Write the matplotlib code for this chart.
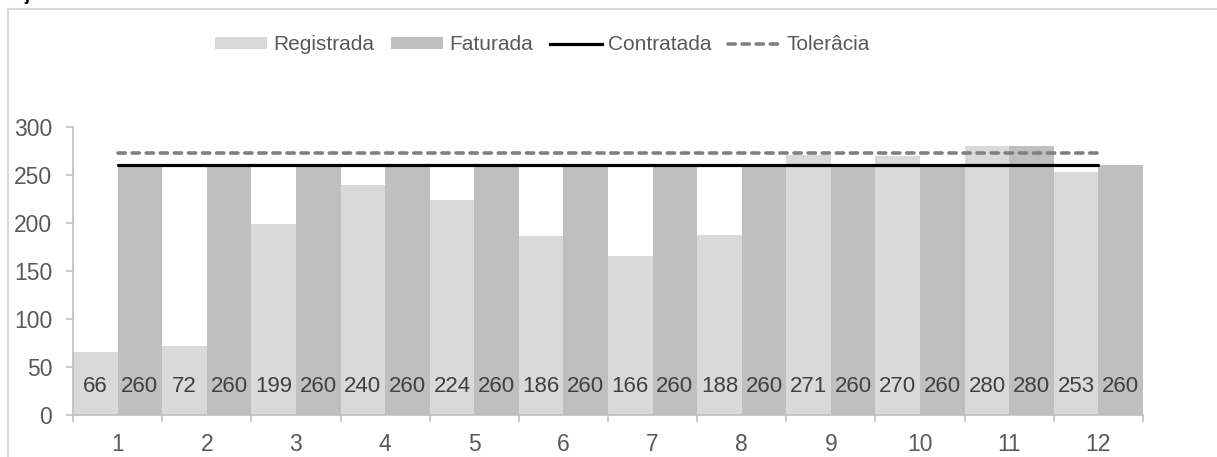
import matplotlib
matplotlib.use("Agg")
import matplotlib.pyplot as plt
from matplotlib.patches import Rectangle, Patch
from matplotlib.lines import Line2D
import numpy as np

plt.rcParams['font.family'] = ['Liberation Sans', 'DejaVu Sans']

meses = [1, 2, 3, 4, 5, 6, 7, 8, 9, 10, 11, 12]
registrada = [66, 72, 199, 240, 224, 186, 166, 188, 271, 270, 280, 253]
faturada = [260, 260, 260, 260, 260, 260, 260, 260, 260, 260, 280, 260]
contratada = [260] * 12
tolerancia = [273] * 12
yticks = [0, 50, 100, 150, 200, 250, 300]

W, H = 1217, 457
fig = plt.figure(figsize=(W / 100, H / 100), dpi=100)

# outer frame
fig.patches.append(Rectangle((8 / W, -0.05), 1.2, 1 - 9 / H + 0.05,
                             transform=fig.transFigure, fill=False,
                             edgecolor='#d9d9d9', linewidth=1.5, zorder=0))

# heading, running off the top edge
fig.text(10 / W, 1 + 0.5 / H, "a jan/15 a dez/15.", fontsize=13, fontweight='bold',
         va='baseline', ha='left', color='black')

left, right = 73 / W, 1143 / W
bottom, top = (H - 415) / H, (H - 127) / H
ax = fig.add_axes([left, bottom, right - left, top - bottom])

x = np.array(meses)
bw = 0.5
ax.bar(x - bw / 2, registrada, width=bw, color='#d9d9d9', zorder=2)
ax.bar(x + bw / 2, faturada, width=bw, color='#bfbfbf', zorder=2)
ax.plot(x, contratada, color='black', linewidth=2.3, solid_capstyle='round', zorder=3)
ax.plot(x, tolerancia, color='#808080', linewidth=2.6, dashes=(2.0, 1.9),
        dash_capstyle='round', zorder=3)

for xi, r, f in zip(x, registrada, faturada):
    ax.text(xi - bw / 2, 30, str(r), ha='center', va='center', fontsize=16, color='#404040', zorder=4)
    ax.text(xi + bw / 2, 30, str(f), ha='center', va='center', fontsize=16, color='#404040', zorder=4)

ax.set_xlim(0.5, 12.5)
ax.set_ylim(0, 300)
ax.set_yticks(yticks)
ax.set_xticks(x)
ax.set_xticklabels([str(m) for m in meses])
ax.set_xticks(np.arange(0.5, 13, 1), minor=True)
ax.tick_params(axis='x', which='major', length=0, pad=13, labelsize=16.5, labelcolor='#595959')
ax.tick_params(axis='x', which='minor', length=5, width=1.2, color='#bfbfbf', direction='out')
ax.tick_params(axis='y', length=5, width=1.2, color='#bfbfbf', labelsize=16.5, labelcolor='#595959', pad=10)

for s in ['top', 'right']:
    ax.spines[s].set_visible(False)
for s in ['left', 'bottom']:
    ax.spines[s].set_color('#bfbfbf')
    ax.spines[s].set_linewidth(1.2)
ax.set_facecolor('none')

handles = [Patch(facecolor='#d9d9d9'), Patch(facecolor='#bfbfbf'),
           Line2D([], [], color='black', linewidth=2.3),
           Line2D([], [], color='#808080', linewidth=2.6, dashes=(2.0, 1.9), dash_capstyle='round')]
labels = ['Registrada', 'Faturada', 'Contratada', 'Tolerâcia']
leg = fig.legend(handles, labels, loc='center left', bbox_to_anchor=(215 / W, 1 - 45 / H), ncol=4,
                 frameon=False, fontsize=15, handlelength=2.5, handleheight=0.5,
                 handletextpad=0.3, columnspacing=0.8, borderpad=0, borderaxespad=0)
for t in leg.get_texts():
    t.set_color('#595959')

fig.savefig('out.png', dpi=100)
